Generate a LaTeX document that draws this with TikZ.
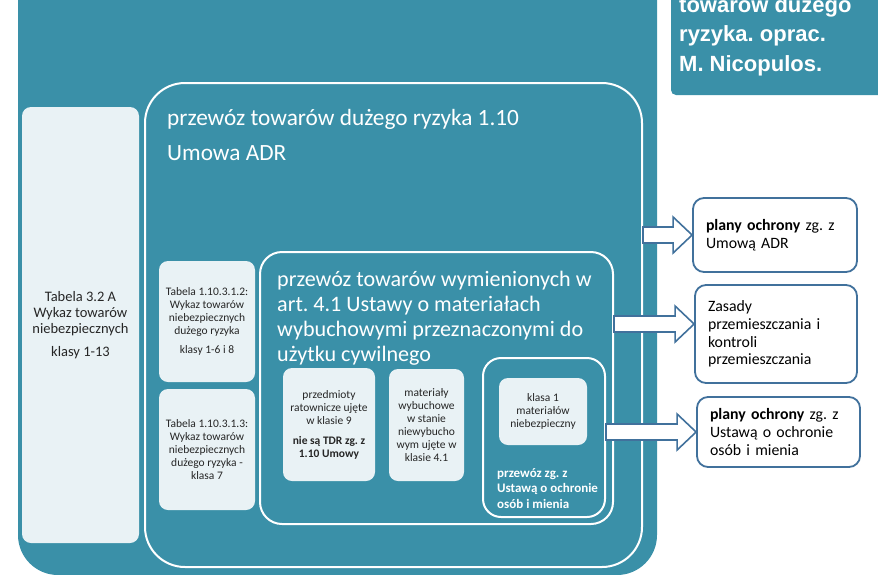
\documentclass[tikz,border=0pt]{standalone}
\usepackage{fontspec}
\setmainfont{Carlito}
\newfontfamily\headfont{Liberation Sans}
\usetikzlibrary{calc}
\frenchspacing

\definecolor{adrteal}{HTML}{3A90A8}
\definecolor{paleblue}{HTML}{E9F2F5}
\definecolor{edgeblue}{HTML}{41719C}

\newcommand\blockarrow[2]{%
  \draw[arrowbody] let \p1=(#1), \p2=(#2) in
    (\x1,\y1+8pt) -- (\x2-19pt,\y1+8pt) -- (\x2-19pt,\y1+18pt) -- (\x2,\y1)
    -- (\x2-19pt,\y1-18pt) -- (\x2-19pt,\y1-8pt) -- (\x1,\y1-8pt) -- cycle;}

\begin{document}
\begin{tikzpicture}[x=1pt,y=-1pt,
  palebox/.style={fill=paleblue, rounded corners=9pt, align=center, text=black!85,
    font=\fontsize{11.5}{13}\selectfont, inner sep=0pt},
  framebox/.style={draw=white, line width=2pt, inner sep=0pt},
  planbox/.style={draw=edgeblue, line width=1.8pt, fill=white, rounded corners=11pt,
    align=left, font=\fontsize{15.8}{17.8}\selectfont, inner xsep=13pt, inner ysep=0pt},
  arrowbody/.style={draw=edgeblue, line width=1.6pt, fill=white},
  whitetext/.style={text=white, align=left, inner sep=0pt, anchor=base west}]

  \useasboundingbox (0,0) rectangle (878,574);
  \clip (0,0) rectangle (878,574);

  \fill[adrteal, rounded corners=40pt] (18,-40) rectangle (657,575);
  \fill[adrteal, rounded corners=5pt] (671,-40) rectangle (900,95);
  \node[whitetext, font=\headfont\bfseries\fontsize{22}{29.5}\selectfont] (autor) at (679,71)
    {towarów dużego\\ryzyka. oprac.\\M. Nicopulos.};

  \node[palebox, minimum width=117pt, minimum height=436pt, font=\fontsize{14.5}{16}\selectfont]
    (tab32) at (80.5,325) {Tabela 3.2 A\\Wykaz towarów\\niebezpiecznych\\[7pt]klasy 1-13};

  \node[framebox, rounded corners=40pt, minimum width=497pt, minimum height=484pt] (umowa) at (393.5,325) {};
  \node[whitetext, font=\fontsize{23.3}{28}\selectfont] (umowaT) at (167,160)
    {przewóz towarów dużego ryzyka 1.10\\[7pt]Umowa ADR};

  \node[palebox, minimum width=96pt, minimum height=121pt] (tab1) at (207,321.5)
    {Tabela 1.10.3.1.2:\\Wykaz towarów\\niebezpiecznych\\dużego ryzyka\\[6pt]klasy 1-6 i 8};
  \node[palebox, minimum width=96pt, minimum height=121pt] (tab2) at (207,449.5)
    {Tabela 1.10.3.1.3:\\Wykaz towarów\\niebezpiecznych\\dużego ryzyka -\\klasa 7};

  \node[framebox, rounded corners=22pt, minimum width=353pt, minimum height=272pt] (wymien) at (436.5,388) {};
  \node[whitetext, font=\fontsize{22.1}{25}\selectfont] (wymienT) at (277,361)
    {przewóz towarów wymienionych w\\art. 4.1 Ustawy o materiałach\\wybuchowymi przeznaczonymi do\\użytku cywilnego};

  \node[palebox, minimum width=92pt, minimum height=113pt] (przedm) at (329,424.5)
    {przedmioty\\ratownicze ujęte\\w klasie 9\\[7pt]\textbf{nie są TDR zg. z}\\\textbf{1.10 Umowy}};
  \node[palebox, minimum width=75pt, minimum height=112pt] (mater) at (426.5,425)
    {materiały\\wybuchowe\\w stanie\\niewybucho\\wym ujęte w\\klasie 4.1};

  \node[framebox, rounded corners=18pt, minimum width=122pt, minimum height=159pt] (ustawa) at (544,437.5) {};
  \node[palebox, minimum width=88pt, minimum height=67pt] (klasa) at (543,411.5)
    {klasa 1\\materiałów\\niebezpieczny};
  \node[whitetext, font=\bfseries\fontsize{13}{15.5}\selectfont] (ustawaT) at (497,508)
    {przewóz zg. z\\Ustawą o ochronie\\osób i mienia};

  \node[planbox, text width=138pt, minimum width=164pt, minimum height=74pt] (plan1) at (775,235)
    {\textbf{plany ochrony} zg. z\\Umową ADR};
  \node[planbox, text width=136pt, minimum width=162pt, minimum height=98pt] (zasady) at (776,334)
    {Zasady\\przemieszczania i\\kontroli\\przemieszczania};
  \node[planbox, text width=137pt, minimum width=163pt, minimum height=70pt] (plan3) at (778.5,432)
    {\textbf{plany ochrony} zg. z\\Ustawą o ochronie\\osób i mienia};

  \coordinate (a2) at ([yshift=10pt]zasady.west);
  \blockarrow{umowa.east |- plan1.west}{plan1.west}
  \blockarrow{wymien.east |- a2}{a2}
  \blockarrow{ustawa.east |- plan3.west}{plan3.west}

\end{tikzpicture}
\end{document}
